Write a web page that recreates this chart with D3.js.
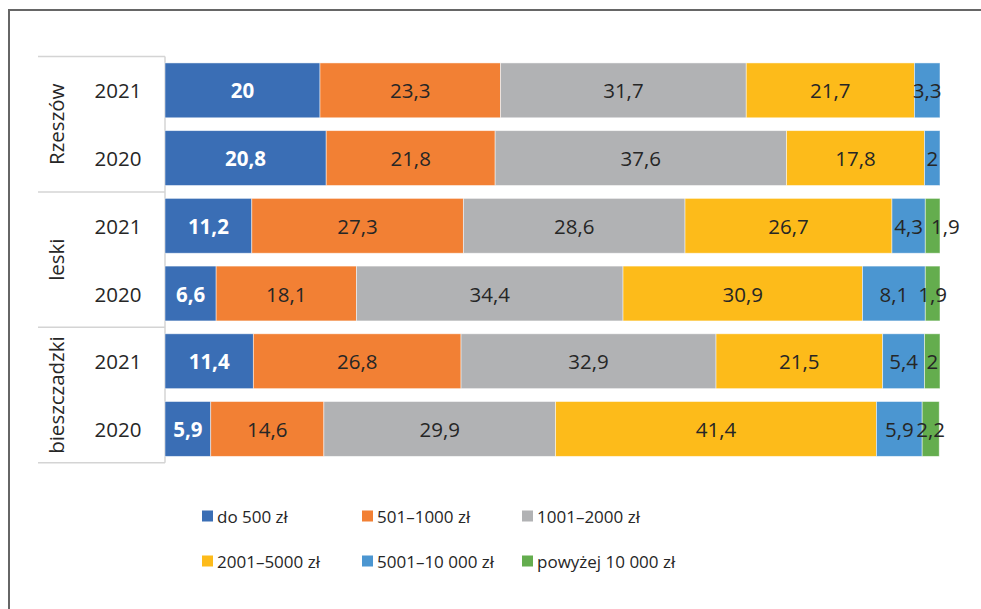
<!DOCTYPE html>
<html>
<head>
<meta charset="utf-8">
<script src="https://cdn.jsdelivr.net/npm/d3@7"></script>
<style>
  body { margin: 0; background: #fff; }
  svg { font-family: "Open Sans", sans-serif; }
  .lbl { font-size: 20.5px; fill: #262626; }
  .leg { font-size: 17px; fill: #262626; }
</style>
</head>
<body>
<svg width="981" height="609"></svg>
<script>
var groups = ["Rzeszów", "leski", "bieszczadzki"];
var years = ["2021", "2020"];
var series = ["do 500 zł", "501–1000 zł", "1001–2000 zł", "2001–5000 zł", "5001–10 000 zł", "powyżej 10 000 zł"];
var colors = ["#3a6eb5", "#f28034", "#b1b2b4", "#fdbb1a", "#4b96d1", "#64ad4e"];

// one value per row: Rzeszów 2021, Rzeszów 2020, leski 2021, leski 2020, bieszczadzki 2021, bieszczadzki 2020
var do500 = [20, 20.8, 11.2, 6.6, 11.4, 5.9];
var do1000 = [23.3, 21.8, 27.3, 18.1, 26.8, 14.6];
var do2000 = [31.7, 37.6, 28.6, 34.4, 32.9, 29.9];
var do5000 = [21.7, 17.8, 26.7, 30.9, 21.5, 41.4];
var do10000 = [3.3, 2, 4.3, 8.1, 5.4, 5.9];
var ponad10000 = [null, null, 1.9, 1.9, 2, 2.2];
var seriesValues = [do500, do1000, do2000, do5000, do10000, ponad10000];

var svg = d3.select("svg");

// outer frame
svg.append("path")
    .attr("d", "M9,620 L9,10 L990,10")
    .attr("fill", "none")
    .attr("stroke", "#666")
    .attr("stroke-width", 2);

var rows = [];
groups.forEach(function(g, gi) {
    years.forEach(function(y, yi) {
        var r = { key: g + "|" + y, group: g, year: y };
        series.forEach(function(s, si) { r[s] = seriesValues[si][gi * years.length + yi] || 0; });
        rows.push(r);
    });
});

var xScale = d3.scaleLinear().domain([0, 100]).range([165, 940]);
var yScale = d3.scaleBand().domain(rows.map(function(d) { return d.key; }))
    .range([56.5, 462.8]).paddingInner(0.19).paddingOuter(0.095);

var stacked = d3.stack().keys(series)(rows);

// category axis lines
var axisG = svg.append("g").attr("stroke", "#d4d4d4").attr("stroke-width", 1.5);
axisG.append("line").attr("x1", 165).attr("x2", 165).attr("y1", 56.5).attr("y2", 462.8);
groups.forEach(function(g, gi) {
    var yTop = yScale(g + "|" + years[0]) - yScale.step() * yScale.paddingInner() / 2;
    if (gi == 0) yTop = 56.5;
    axisG.append("line").attr("x1", 38).attr("x2", 165).attr("y1", yTop).attr("y2", yTop);
});
axisG.append("line").attr("x1", 38).attr("x2", 165).attr("y1", 462.8).attr("y2", 462.8);

// year labels
svg.selectAll(".year").data(rows).enter().append("text")
    .attr("class", "lbl")
    .attr("x", 118)
    .attr("y", function(d) { return yScale(d.key) + yScale.bandwidth() / 2; })
    .attr("text-anchor", "middle")
    .attr("dominant-baseline", "central")
    .text(function(d) { return d.year; });

// group labels
groups.forEach(function(g) {
    var yc = (yScale(g + "|" + years[0]) + yScale(g + "|" + years[years.length - 1]) + yScale.bandwidth()) / 2;
    svg.append("text")
        .attr("class", "lbl")
        .attr("transform", "translate(56," + yc + ") rotate(-90)")
        .attr("text-anchor", "middle")
        .attr("dominant-baseline", "central")
        .text(g);
});

// bars
var layer = svg.selectAll(".layer").data(stacked).enter().append("g")
    .attr("fill", function(d, i) { return colors[i]; });

layer.selectAll("rect").data(function(d) { return d; }).enter().append("rect")
    .filter(function(d) { return d[1] - d[0] > 0; })
    .attr("x", function(d) { return xScale(d[0]); })
    .attr("y", function(d) { return yScale(d.data.key); })
    .attr("width", function(d) { return xScale(d[1]) - xScale(d[0]); })
    .attr("height", yScale.bandwidth())
    .attr("stroke", "#fff")
    .attr("stroke-opacity", 0.6)
    .attr("stroke-width", 0.8);

// value labels, nudged right when they would overlap the previous one
var fmt = function(v) { return String(v).replace(".", ","); };
rows.forEach(function(r) {
    var prevRight = -Infinity;
    stacked.forEach(function(s, si) {
        var d = s[rows.indexOf(r)];
        var v = d[1] - d[0];
        if (!(v > 0)) return;
        var t = svg.append("text")
            .attr("class", "lbl")
            .attr("y", yScale(r.key) + yScale.bandwidth() / 2)
            .attr("text-anchor", "middle")
            .attr("dominant-baseline", "central")
            .style("fill", si == 0 ? "#fff" : "#262626")
            .style("font-weight", si == 0 ? "bold" : "normal")
            .text(fmt(r[series[si]]));
        var w = t.node().getComputedTextLength();
        var cx = (xScale(d[0]) + xScale(d[1])) / 2;
        if (cx - w / 2 < prevRight) cx = prevRight + 8 + w / 2;
        t.attr("x", cx);
        prevRight = cx + w / 2;
    });
});

// legend
var legend = svg.selectAll(".legItem").data(series).enter().append("g")
    .attr("transform", function(d, i) {
        return "translate(" + (202 + (i % 3) * 160) + "," + (516 + Math.floor(i / 3) * 45) + ")";
    });
legend.append("rect")
    .attr("x", 0).attr("y", -5.5).attr("width", 11).attr("height", 11)
    .attr("fill", function(d, i) { return colors[i]; });
legend.append("text")
    .attr("class", "leg")
    .attr("x", 15)
    .attr("dominant-baseline", "central")
    .text(function(d) { return d; });
</script>
</body>
</html>
